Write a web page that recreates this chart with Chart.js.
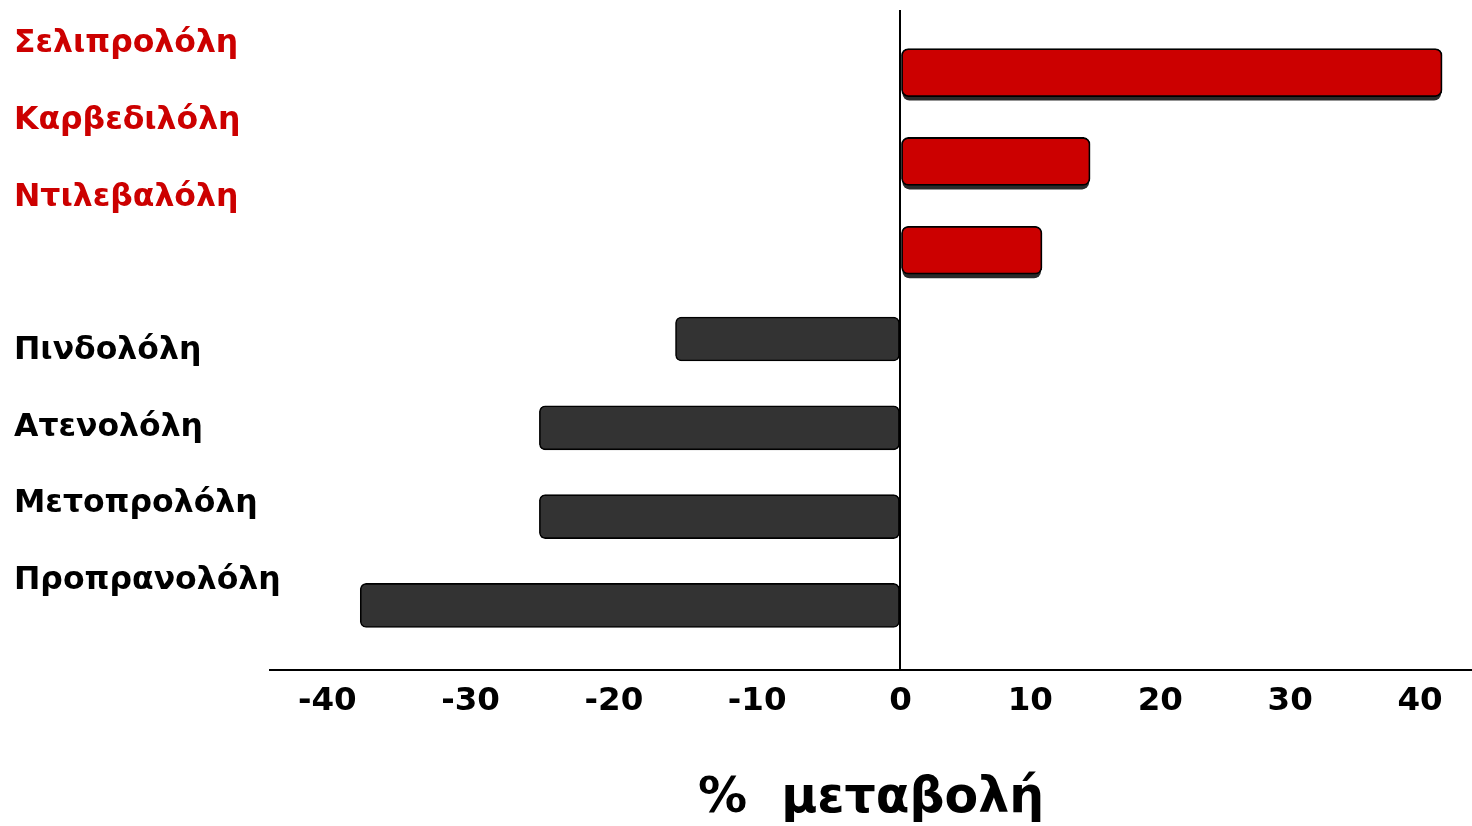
<!DOCTYPE html>
<html>
<head>
<meta charset="utf-8">
<script src="https://cdn.jsdelivr.net/npm/chart.js@4/dist/chart.umd.min.js"></script>
<style>
  html, body { margin: 0; padding: 0; background: #ffffff; }
  #chart { display: block; }
</style>
</head>
<body>
<canvas id="chart" width="1472" height="826"></canvas>
<script>
// Beta-blockers with vasodilating action (red) and classic beta-blockers (dark)
const vasodilating = ['Σελιπρολόλη', 'Καρβεδιλόλη', 'Ντιλεβαλόλη'];
const vasodilatingChange = [41.7, 14.6, 10.9];

const classic = ['Πινδολόλη', 'Ατενολόλη', 'Μετοπρολόλη', 'Προπρανολόλη'];
const classicChange = [-15.7, -25.2, -25.2, -37.7];

const xTickValues = [-40, -30, -20, -10, 0, 10, 20, 30, 40];
const axisTitle = '%  μεταβολή';

// Name column: the two groups are separated by an empty row
const nameColumn = [...vasodilating, '', ...classic];

const RED = '#cc0000';
const DARK = '#333333';
const FONT = '"DejaVu Sans", Verdana, sans-serif';

const redPoints = vasodilatingChange.map((v, i) => ({ x: v, y: i }));
const darkPoints = classicChange.map((v, i) => ({ x: v, y: vasodilating.length + i }));

// Linear scale whose negative and positive halves each get their own unit length;
// `zeroAt` is the fraction of the axis length where the value 0 sits.
class SplitLinearScale extends Chart.LinearScale {
  getPixelForValue(value) {
    if (value === null || value === undefined || isNaN(value)) return NaN;
    const z = this.options.zeroAt;
    const d = value <= 0
      ? z * (value - this.min) / (0 - this.min)
      : z + (1 - z) * value / this.max;
    return this.getPixelForDecimal(d);
  }
  getValueForPixel(pixel) {
    const z = this.options.zeroAt;
    const d = this.getDecimalForPixel(pixel);
    return d <= z
      ? this.min + (d / z) * (0 - this.min)
      : ((d - z) / (1 - z)) * this.max;
  }
}
SplitLinearScale.id = 'splitLinear';
SplitLinearScale.defaults = Chart.LinearScale.defaults;
Chart.register(SplitLinearScale);

// Dark drop shadow beneath each red bar, taken from the bar elements' own geometry
const barShadow = {
  id: 'barShadow',
  beforeDatasetDraw(chart, args) {
    if (args.index !== 0) return;
    const ctx = chart.ctx;
    ctx.save();
    ctx.fillStyle = '#2a2a2a';
    args.meta.data.forEach(bar => {
      const { x, y, base, height } = bar.getProps(['x', 'y', 'base', 'height'], true);
      const left = Math.min(x, base);
      const width = Math.abs(x - base);
      ctx.beginPath();
      ctx.roundRect(left + 1, y - height / 2 + 4, width - 2, height, 7);
      ctx.fill();
    });
    ctx.restore();
  }
};

new Chart(document.getElementById('chart'), {
  type: 'bar',
  data: {
    datasets: [
      {
        data: redPoints,
        backgroundColor: RED,
        borderColor: '#000000',
        borderWidth: 1.8,
        borderRadius: 7,
        borderSkipped: false,
        barThickness: 48,
        xAxisID: 'x',
        yAxisID: 'y'
      },
      {
        data: darkPoints,
        backgroundColor: DARK,
        borderColor: '#000000',
        borderWidth: 1.6,
        borderRadius: 6,
        borderSkipped: false,
        barThickness: 44,
        xAxisID: 'x',
        yAxisID: 'y'
      }
    ]
  },
  options: {
    indexAxis: 'y',
    responsive: false,
    animation: false,
    devicePixelRatio: 1,
    layout: { padding: { left: 14, right: 0, top: 10, bottom: 0 } },
    plugins: {
      legend: { display: false },
      tooltip: { enabled: false }
    },
    datasets: { bar: { grouped: false } },
    scales: {
      x: {
        type: 'splitLinear',
        position: 'bottom',
        offset: false,
        min: -44,
        max: 44,
        zeroAt: 0.5245,
        afterBuildTicks(scale) {
          scale.ticks = xTickValues.map(v => ({ value: v }));
        },
        afterFit(scale) {
          scale.height = 156;
          scale.paddingLeft = 0;
          scale.paddingRight = 0;
        },
        grid: {
          offset: false,
          drawTicks: false,
          color: c => (c.tick && c.tick.value === 0 ? '#000000' : 'rgba(0,0,0,0)'),
          lineWidth: 2
        },
        border: { display: true, color: '#000000', width: 2 },
        ticks: {
          padding: 12,
          color: '#000000',
          font: { family: FONT, size: 32.5, weight: 'bold' }
        },
        title: {
          display: true,
          text: axisTitle,
          color: '#000000',
          font: { family: FONT, size: 49, weight: 'bold', lineHeight: 1 },
          padding: { top: 0, bottom: 2 }
        }
      },
      // positions of the bars
      y: {
        type: 'linear',
        display: false,
        offset: false,
        grid: { offset: false },
        reverse: true,
        min: -0.705,
        max: 6.727
      },
      // drug names, listed on their own spacing and left-aligned at the page edge
      yl: {
        type: 'linear',
        position: 'left',
        offset: false,
        reverse: true,
        min: -0.443,
        max: 8.16,
        afterFit(scale) {
          scale.width = 256;
          scale.paddingTop = 0;
          scale.paddingBottom = 0;
        },
        grid: { display: false, offset: false },
        border: { display: false },
        ticks: {
          stepSize: 1,
          includeBounds: false,
          autoSkip: false,
          mirror: true,
          padding: -256,
          color: c => (c.tick && c.tick.value < vasodilating.length ? RED : '#000000'),
          font: { family: FONT, size: 31.5, weight: 'bold' },
          callback: v => (Number.isInteger(v) && nameColumn[v] !== undefined ? nameColumn[v] : '')
        }
      }
    }
  },
  plugins: [barShadow]
});
</script>
</body>
</html>
